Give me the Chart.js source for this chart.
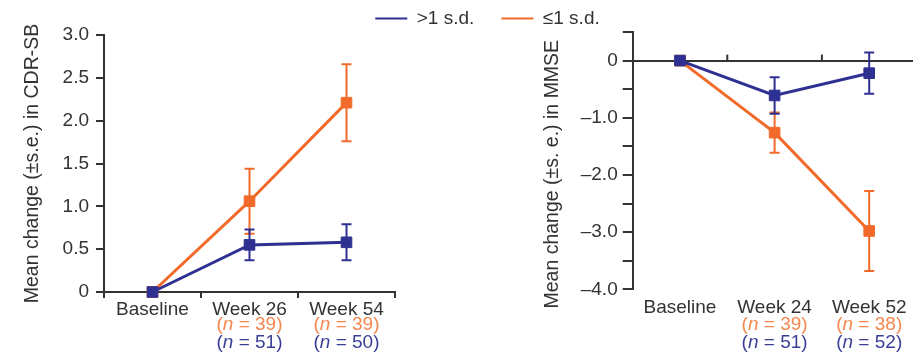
<!DOCTYPE html>
<html>
<head>
<meta charset="utf-8">
<script src="https://cdn.jsdelivr.net/npm/chart.js@4.4.0/dist/chart.umd.min.js"></script>
<style>
  html, body { margin: 0; padding: 0; width: 913px; height: 354px; overflow: hidden; background: #fff; }
  .panel { position: absolute; }
  #rightBox { left: 50px; top: -18px; }
  #leftBox { left: 0; top: 0; }
</style>
</head>
<body>
<div id="rightBox" class="panel"><canvas id="mmseChart" width="875" height="372"></canvas></div>
<div id="leftBox" class="panel"><canvas id="cdrChart" width="430" height="354"></canvas></div>
<script>
// series names (legend)
const seriesNames = ['>1 s.d.', '\u22641 s.d.'];
const seriesColors = ['#2e3192', '#f26a2a'];
const nColors = ['#3a3f96', '#f5874f'];

// CDR-SB panel
const cdrLabels = ['Baseline', 'Week 26', 'Week 54'];
const cdrAbove = [0, 0.55, 0.58];
const cdrAboveErr = [0, 0.18, 0.21];
const cdrBelow = [0, 1.06, 2.21];
const cdrBelowErr = [0, 0.38, 0.45];
const cdrAboveN = [null, 51, 50];
const cdrBelowN = [null, 39, 39];

// MMSE panel
const mmseLabels = ['Baseline', 'Week 24', 'Week 52'];
const mmseAbove = [0, -0.61, -0.22];
const mmseAboveErr = [0, 0.32, 0.36];
const mmseBelow = [0, -1.26, -2.98];
const mmseBelowErr = [0, 0.35, 0.70];
const mmseAboveN = [null, 51, 52];
const mmseBelowN = [null, 39, 38];

const FONT = '"Liberation Sans", Arial, sans-serif';
const INK = '#333333';
Chart.defaults.font.family = FONT;
Chart.defaults.color = INK;

// vertical error bars with caps, drawn just under each series
const errorBarPlugin = {
    id: 'errorBars',
    beforeDatasetDraw(chart, args) {
        const ds = chart.data.datasets[args.index];
        if (!ds.errors) return;
        const y = chart.scales.y;
        const ctx = chart.ctx;
        ctx.save();
        ctx.strokeStyle = ds.borderColor;
        ctx.lineWidth = 2;
        args.meta.data.forEach((pt, i) => {
            const e = ds.errors[i];
            if (!e) return;
            const top = y.getPixelForValue(ds.data[i] + e);
            const bot = y.getPixelForValue(ds.data[i] - e);
            ctx.beginPath();
            ctx.moveTo(pt.x, top); ctx.lineTo(pt.x, bot);
            ctx.moveTo(pt.x - 5, top); ctx.lineTo(pt.x + 5, top);
            ctx.moveTo(pt.x - 5, bot); ctx.lineTo(pt.x + 5, bot);
            ctx.stroke();
        });
        ctx.restore();
    }
};

// "(n = xx)" rows under the category labels, italic n
const nLabelPlugin = {
    id: 'nLabels',
    afterDraw(chart, args, opts) {
        if (!opts.rows) return;
        const x = chart.scales.x;
        const ctx = chart.ctx;
        const size = opts.size || 19;
        const plain = size + 'px ' + FONT;
        const ital = 'italic ' + size + 'px ' + FONT;
        ctx.save();
        ctx.textBaseline = 'middle';
        ctx.textAlign = 'left';
        opts.rows.forEach((row, r) => {
            const yPos = x.top + opts.firstRow + r * opts.rowGap;
            ctx.fillStyle = row.color;
            row.values.forEach((n, i) => {
                if (n == null) return;
                const parts = [['(', plain], ['n', ital], [' = ' + n + ')', plain]];
                let total = 0;
                parts.forEach(p => { ctx.font = p[1]; total += ctx.measureText(p[0]).width; });
                let cx = x.getPixelForValue(i) - total / 2;
                parts.forEach(p => {
                    ctx.font = p[1];
                    ctx.fillText(p[0], cx, yPos);
                    cx += ctx.measureText(p[0]).width;
                });
            });
        });
        ctx.restore();
    }
};

// small upward ticks on the zero line between categories (MMSE panel)
const zeroTickPlugin = {
    id: 'zeroTicks',
    afterDraw(chart, args, opts) {
        if (!opts.show) return;
        const x = chart.scales.x;
        const y0 = chart.scales.y.getPixelForValue(0);
        const ctx = chart.ctx;
        ctx.save();
        ctx.strokeStyle = INK;
        ctx.lineWidth = 2;
        for (let i = 0; i < chart.data.labels.length - 1; i++) {
            const px = x.getPixelForValue(i + 0.5);
            ctx.beginPath();
            ctx.moveTo(px, y0);
            ctx.lineTo(px, y0 - 6);
            ctx.stroke();
        }
        ctx.restore();
    }
};

// keep the legend short so the plot can start right under it
const legendHeightPlugin = {
    id: 'legendHeight',
    beforeLayout(chart, args, opts) {
        if (!opts.height || !chart.legend || chart.legend._patched) return;
        const fit = chart.legend.fit;
        chart.legend.fit = function () {
            fit.call(this);
            this.height = opts.height;
        };
        chart.legend._patched = true;
    }
};

function series(label, data, errors, color) {
    return {
        label: label,
        data: data,
        errors: errors,
        borderColor: color,
        backgroundColor: color,
        borderWidth: 3,
        pointStyle: 'rect',
        pointRadius: 7.5,
        pointBorderWidth: 1,
        tension: 0,
        clip: false
    };
}

const tickFont = { size: 19 };
const titleFont = { size: 19.5 };

new Chart(document.getElementById('cdrChart').getContext('2d'), {
    type: 'line',
    data: {
        labels: cdrLabels,
        datasets: [
            series(seriesNames[0], cdrAbove, cdrAboveErr, seriesColors[0]),
            series(seriesNames[1], cdrBelow, cdrBelowErr, seriesColors[1])
        ]
    },
    options: {
        responsive: false,
        animation: false,
        layout: { padding: { left: 0, top: 35, right: 35, bottom: 0 } },
        scales: {
            x: {
                offset: true,
                grid: { offset: true, drawOnChartArea: false, color: INK, lineWidth: 2, tickLength: 6 },
                border: { color: INK, width: 2 },
                ticks: { font: tickFont, color: INK, padding: 0, maxRotation: 0 },
                afterFit(s) { s.height = 62; }
            },
            y: {
                min: 0,
                max: 3,
                ticks: {
                    stepSize: 0.5,
                    font: tickFont,
                    color: INK,
                    padding: 7,
                    callback: v => v === 0 ? '0' : v.toFixed(1)
                },
                grid: { drawOnChartArea: false, color: INK, lineWidth: 2, tickLength: 8 },
                border: { color: INK, width: 2 },
                title: {
                    display: true,
                    text: 'Mean change (\u00b1s.e.) in CDR-SB',
                    font: titleFont,
                    color: INK,
                    padding: { top: 21, bottom: 0 }
                },
                afterFit(s) { s.width = 104; }
            }
        },
        plugins: {
            legend: { display: false },
            tooltip: { enabled: false },
            nLabels: {
                firstRow: 33,
                rowGap: 18,
                rows: [
                    { values: cdrBelowN, color: nColors[1] },
                    { values: cdrAboveN, color: nColors[0] }
                ]
            }
        }
    },
    plugins: [errorBarPlugin, nLabelPlugin]
});

new Chart(document.getElementById('mmseChart').getContext('2d'), {
    type: 'line',
    data: {
        labels: mmseLabels,
        datasets: [
            series(seriesNames[0], mmseAbove, mmseAboveErr, seriesColors[0]),
            series(seriesNames[1], mmseBelow, mmseBelowErr, seriesColors[1])
        ]
    },
    options: {
        responsive: false,
        animation: false,
        layout: { padding: 0 },
        scales: {
            x: {
                offset: true,
                grid: { display: false, drawTicks: false },
                border: { display: false },
                ticks: { font: tickFont, color: INK, padding: 7, maxRotation: 0 },
                afterFit(s) { s.height = 64.7; }
            },
            y: {
                min: -4,
                max: 0.5,
                ticks: {
                    stepSize: 0.5,
                    font: tickFont,
                    color: INK,
                    padding: 5,
                    callback: v => Number.isInteger(v) ? (v === 0 ? '0' : '\u2013' + Math.abs(v).toFixed(1)) : ''
                },
                grid: {
                    drawOnChartArea: true,
                    color: c => (c.tick && c.tick.value === 0) ? INK : 'rgba(0,0,0,0)',
                    tickColor: INK,
                    lineWidth: 2,
                    tickWidth: 2,
                    tickLength: 10
                },
                border: { color: INK, width: 2 },
                title: {
                    display: true,
                    // trailing no-break spaces nudge the centred title toward the bottom, as in the source
                    text: 'Mean change (\u00b1s. e.) in MMSE\u00a0\u00a0\u00a0\u00a0\u00a0',
                    font: titleFont,
                    color: INK,
                    padding: { top: 491, bottom: 0 }
                },
                afterFit(s) { s.width = 582.7; }
            }
        },
        plugins: {
            legend: {
                display: true,
                position: 'top',
                labels: {
                    usePointStyle: true,
                    pointStyle: 'line',
                    pointStyleWidth: 32,
                    padding: 27,
                    color: INK,
                    font: { size: 19 },
                    generateLabels(chart) {
                        const items = Chart.defaults.plugins.legend.labels.generateLabels(chart);
                        items.forEach(it => { it.lineWidth = 2; });
                        return items;
                    }
                }
            },
            legendHeight: { height: 50 },
            tooltip: { enabled: false },
            zeroTicks: { show: true },
            nLabels: {
                firstRow: 35,
                rowGap: 18,
                rows: [
                    { values: mmseBelowN, color: nColors[1] },
                    { values: mmseAboveN, color: nColors[0] }
                ]
            }
        }
    },
    plugins: [errorBarPlugin, nLabelPlugin, zeroTickPlugin, legendHeightPlugin]
});
</script>
</body>
</html>
